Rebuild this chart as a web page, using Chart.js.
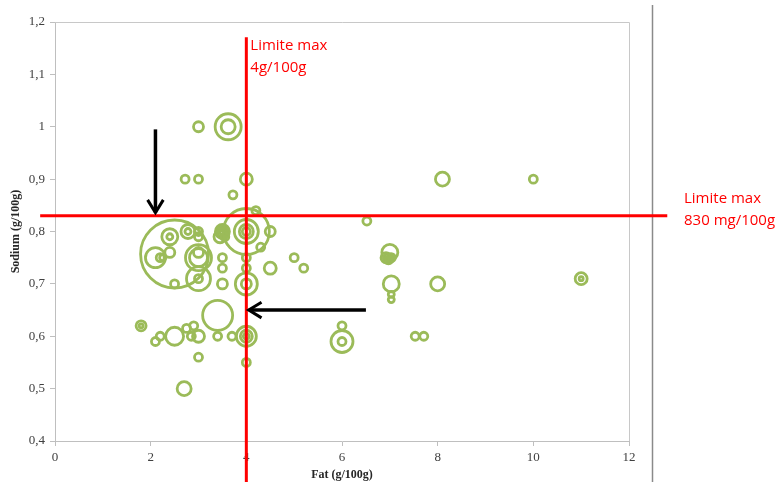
<!DOCTYPE html>
<html>
<head>
<meta charset="utf-8">
<script src="https://cdn.jsdelivr.net/npm/chart.js@4/dist/chart.umd.min.js"></script>
<style>
  html, body { margin: 0; padding: 0; background: #ffffff; }
  #wrap { width: 776px; height: 482px; }
</style>
</head>
<body>
<div id="wrap"><canvas id="chart" width="776" height="482"></canvas></div>
<script>
// Fat content (g/100g) of each product
const fat = [
  3.0, 3.62, 3.62, 2.72, 3.0, 4.0, 3.72, 4.2, 8.1, 10.0, 6.52,
  2.5, 2.4, 2.4, 2.78, 2.78, 3.0, 3.0, 2.1, 2.2, 2.25, 2.4, 3.0, 3.0, 3.0, 3.0, 3.0, 2.5,
  3.5, 3.5, 3.5, 3.45, 3.55,
  4.0, 4.0, 4.0, 4.0, 4.5, 4.3, 4.0, 4.0, 4.0, 4.0, 3.5, 3.5, 3.5, 4.5, 5.0, 5.2,
  3.4, 1.8, 1.8, 2.2, 2.1, 2.5, 2.75, 2.9, 2.85, 3.0, 3.4, 3.7, 4.0, 4.0, 4.0, 3.0, 4.0, 2.7,
  7.0, 6.92, 6.97, 7.03, 6.95, 7.03, 7.03, 7.03, 8.0, 6.0, 6.0, 6.0, 7.53, 7.71, 11.0, 11.0
];

// Sodium content (g/100g) of each product
const sodium = [
  1.00, 1.00, 1.00, 0.90, 0.90, 0.90, 0.87, 0.84, 0.90, 0.90, 0.82,
  0.757, 0.79, 0.79, 0.80, 0.80, 0.80, 0.79, 0.75, 0.75, 0.75, 0.76, 0.75, 0.75, 0.76, 0.71, 0.71, 0.70,
  0.80, 0.80, 0.80, 0.79, 0.79,
  0.80, 0.80, 0.80, 0.80, 0.80, 0.77, 0.75, 0.73, 0.70, 0.70, 0.75, 0.73, 0.70, 0.73, 0.75, 0.73,
  0.64, 0.62, 0.62, 0.60, 0.59, 0.60, 0.615, 0.62, 0.60, 0.60, 0.60, 0.60, 0.60, 0.60, 0.60, 0.56, 0.55, 0.50,
  0.76, 0.75, 0.748, 0.75, 0.748, 0.70, 0.68, 0.67, 0.70, 0.62, 0.59, 0.59, 0.60, 0.60, 0.71, 0.71
];

// Bubble size of each product
const bubbleSize = [
  5, 13, 7, 4, 4, 6, 4, 4, 7, 4, 4,
  34, 8, 3, 7, 3, 4, 4, 10, 4, 3, 5, 13, 9, 5, 12, 4, 4,
  7, 5, 3, 6, 4,
  23, 12, 7, 4, 5, 4, 4, 4, 11, 5, 4, 4, 5, 6, 4, 4,
  15, 5, 2, 4, 4, 9, 4, 4, 4, 6, 4, 4, 10, 6, 3, 4, 4, 7,
  8, 5, 5, 4, 2, 8, 3, 3, 7, 4, 11, 4, 4, 4, 6, 2
];

const xTickValues = [0, 2, 4, 6, 8, 10, 12];
const xTickLabels = ['0', '2', '4', '6', '8', '10', '12'];
const yTickValues = [0.4, 0.5, 0.6, 0.7, 0.8, 0.9, 1.0, 1.1, 1.2];
const yTickLabels = ['0,4', '0,5', '0,6', '0,7', '0,8', '0,9', '1', '1,1', '1,2'];

// Regulatory limits
const limitFat = 4;          // g/100g
const limitSodium = 0.83;    // g/100g
const limitFatLabel = ['Limite max', '4g/100g'];
const limitSodiumLabel = ['Limite max', '830 mg/100g'];

// Arrows pointing at the limits: [x1, y1, x2, y2] in data units, tip at the end
const arrowDown = [2.1, 0.995, 2.1, 0.836];
const arrowLeft = [6.5, 0.65, 4.05, 0.65];

const points = fat.map((f, i) => ({ x: f, y: sodium[i], r: bubbleSize[i] }));

function drawArrow(ctx, xs, ys, a) {
  const x1 = xs.getPixelForValue(a[0]), y1 = ys.getPixelForValue(a[1]);
  const x2 = xs.getPixelForValue(a[2]), y2 = ys.getPixelForValue(a[3]);
  const ang = Math.atan2(y2 - y1, x2 - x1);
  const head = 15, spread = 0.55;
  ctx.save();
  ctx.strokeStyle = '#000000';
  ctx.lineWidth = 3.5;
  ctx.lineCap = 'butt';
  ctx.beginPath();
  ctx.moveTo(x1, y1);
  ctx.lineTo(x2, y2);
  ctx.stroke();
  ctx.lineWidth = 3;
  ctx.lineJoin = 'miter';
  ctx.beginPath();
  ctx.moveTo(x2 - head * Math.cos(ang - spread), y2 - head * Math.sin(ang - spread));
  ctx.lineTo(x2, y2);
  ctx.lineTo(x2 - head * Math.cos(ang + spread), y2 - head * Math.sin(ang + spread));
  ctx.stroke();
  ctx.restore();
}

const overlay = {
  id: 'overlay',
  beforeDatasetsDraw(chart) {
    const { ctx, chartArea: ca } = chart;
    ctx.save();
    ctx.strokeStyle = '#c8c8c8';
    ctx.lineWidth = 1;
    ctx.beginPath();
    ctx.moveTo(ca.left, ca.top + 0.5);
    ctx.lineTo(ca.right + 0.5, ca.top + 0.5);
    ctx.lineTo(ca.right + 0.5, ca.bottom);
    ctx.stroke();
    // outer frame edge on the right
    ctx.strokeStyle = '#8a8a8a';
    ctx.lineWidth = 1.5;
    ctx.beginPath();
    ctx.moveTo(ca.right + 23.5, 5);
    ctx.lineTo(ca.right + 23.5, chart.height);
    ctx.stroke();
    ctx.restore();
  },
  afterDatasetsDraw(chart) {
    const { ctx } = chart;
    const xs = chart.scales.x, ys = chart.scales.y;
    ctx.save();
    ctx.strokeStyle = '#ff0000';
    ctx.lineWidth = 3;
    const vx = xs.getPixelForValue(limitFat);
    ctx.beginPath();
    ctx.moveTo(vx, ys.getPixelForValue(1.171));
    ctx.lineTo(vx, chart.height);
    ctx.stroke();
    const hy = ys.getPixelForValue(limitSodium);
    ctx.beginPath();
    ctx.moveTo(xs.getPixelForValue(-0.31), hy);
    ctx.lineTo(xs.getPixelForValue(12.8), hy);
    ctx.stroke();

    ctx.fillStyle = '#ff0000';
    ctx.font = '15px "Open Sans"';
    ctx.textAlign = 'left';
    ctx.textBaseline = 'alphabetic';
    ctx.fillText(limitFatLabel[0], vx + 4, 50);
    ctx.fillText(limitFatLabel[1], vx + 4, 72);
    ctx.fillText(limitSodiumLabel[0], 684, hy - 13);
    ctx.fillText(limitSodiumLabel[1], 684, hy + 9);
    ctx.restore();

    drawArrow(ctx, xs, ys, arrowDown);
    drawArrow(ctx, xs, ys, arrowLeft);
  }
};

new Chart(document.getElementById('chart'), {
  type: 'bubble',
  data: {
    datasets: [{
      data: points,
      backgroundColor: 'rgba(0,0,0,0)',
      borderColor: '#9bbb59',
      borderWidth: 2.8,
      hoverBorderWidth: 2.8,
      clip: false
    }]
  },
  options: {
    responsive: false,
    animation: false,
    devicePixelRatio: 1,
    layout: { autoPadding: false, padding: { left: 0, right: 147, top: 22, bottom: 0 } },
    plugins: { legend: { display: false }, tooltip: { enabled: false } },
    scales: {
      x: {
        type: 'linear',
        min: 0, max: 12,
        afterBuildTicks: s => { s.ticks = xTickValues.map(v => ({ value: v })); },
        afterFit: s => { s.height = 41; },
        ticks: {
          callback: (v, i) => xTickLabels[i],
          color: '#404040',
          font: { family: '"Liberation Serif"', size: 13 },
          padding: 4,
          maxRotation: 0
        },
        grid: { display: true, drawOnChartArea: false, drawTicks: true, tickLength: 5, color: '#bfbfbf' },
        border: { display: true, color: '#bfbfbf', width: 1 },
        title: {
          display: true,
          text: 'Fat (g/100g)',
          color: '#262626',
          font: { family: '"Liberation Serif"', size: 12, weight: 'bold' },
          padding: { top: 0, bottom: 0 }
        }
      },
      y: {
        type: 'linear',
        min: 0.4, max: 1.2,
        afterBuildTicks: s => { s.ticks = yTickValues.map(v => ({ value: v })); },
        afterFit: s => { s.width = 55; },
        ticks: {
          callback: (v, i) => yTickLabels[i],
          color: '#404040',
          font: { family: '"Liberation Serif"', size: 13 },
          padding: 5
        },
        grid: { display: true, drawOnChartArea: false, drawTicks: true, tickLength: 5, color: '#bfbfbf' },
        border: { display: true, color: '#bfbfbf', width: 1 },
        title: {
          display: true,
          text: 'Sodium (g/100g)',
          color: '#262626',
          font: { family: '"Liberation Serif"', size: 12, weight: 'bold' },
          padding: { top: 9, bottom: 9 }
        }
      }
    }
  },
  plugins: [overlay]
});
</script>
</body>
</html>
